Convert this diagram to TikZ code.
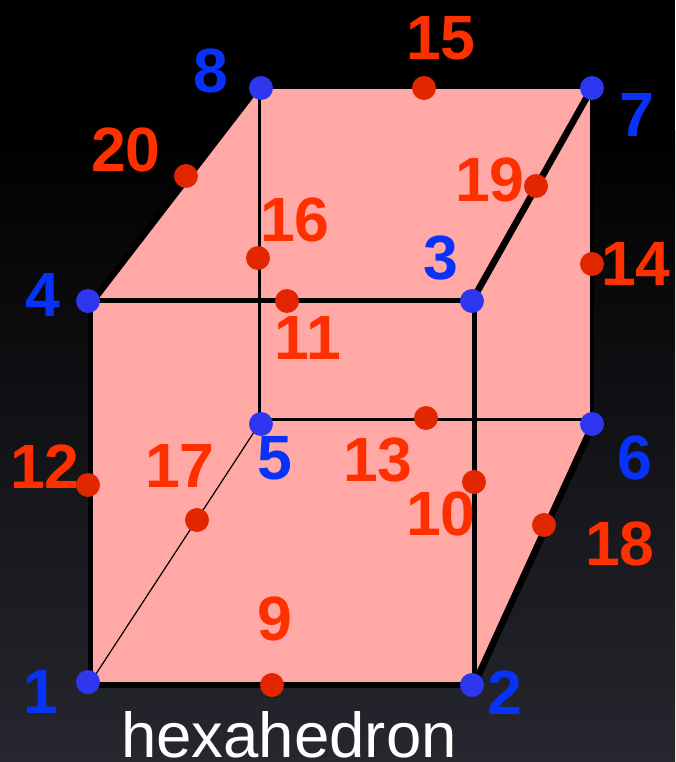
\documentclass[tikz,border=0pt]{standalone}
\usepackage{fontspec}
\setmainfont{Liberation Sans}
\definecolor{pk}{RGB}{255,168,166}
\definecolor{bl}{RGB}{45,55,240}
\definecolor{rd}{RGB}{225,38,0}
\definecolor{rt}{RGB}{255,48,0}
\definecolor{bt}{RGB}{8,50,250}
\definecolor{bgb}{RGB}{38,39,47}
\tikzset{x=0.0264cm,y=-0.0264cm,
 bd/.style={circle,fill=bl,inner sep=0pt,minimum size=24*0.75pt},
 rdd/.style={circle,fill=rd,inner sep=0pt,minimum size=24*0.75pt},
 bn/.style={text=bt,font=\bfseries\fontsize{47}{47}\selectfont,inner sep=0pt},
 rn/.style={text=rt,font=\bfseries\fontsize{47}{47}\selectfont,inner sep=0pt},
 edge/.style={draw=black,line join=round}}
\begin{document}
\begin{tikzpicture}
\useasboundingbox (0,0) rectangle (675,762);
\fill[black] (0,0) rectangle (675,762);
\shade[top color=black,bottom color=bgb] (0,130) rectangle (675,762);
% outline of the pink body
\coordinate (p1) at (90,685);\coordinate (p2) at (474,685);\coordinate (p6) at (591,425);
\coordinate (p7) at (591,88);\coordinate (p8) at (257,88);\coordinate (p4) at (90,303);
\fill[pk] (p1)--(p2)--(p6)--(p7)--(p8)--(p4)--cycle;
% edge end points
\coordinate (e1a) at (90.5,688);\coordinate (e4a) at (90.5,301);
\coordinate (e1b) at (88,685);\coordinate (e2b) at (476,685);
\coordinate (e2c) at (474,685);\coordinate (e6c) at (594,422);
\coordinate (e6d) at (592,424);\coordinate (e7d) at (592,88);
\coordinate (e4e) at (93,301);\coordinate (e8e) at (257,88);
\coordinate (e3f) at (472,301);\coordinate (e7f) at (592,88);
\coordinate (e4g) at (88,300.7);\coordinate (e3g) at (472,300.7);
\coordinate (e3h) at (474.3,301);\coordinate (e2h) at (474.3,685);
\coordinate (e8i) at (259.3,88);\coordinate (e5i) at (259.3,424);
\coordinate (e5j) at (260,419.5);\coordinate (e6j) at (592,419.5);
\coordinate (e1k) at (92,680);\coordinate (e5k) at (258,426);
\coordinate (e8l) at (260,88);\coordinate (e7l) at (592,88);
\draw[edge,line width=4.6pt] (e1b)--(e2b);
\draw[edge,line width=3.9pt] (e1a)--(e4a);
\draw[edge,line width=5pt] (e2c)--(e6c);
\draw[edge,line width=2.8pt] (e6d)--(e7d);
\draw[edge,line width=4.5pt] (e4e)--(e8e);
\draw[edge,line width=5pt] (e3f)--(e7f);
\draw[edge,line width=3.5pt] (e4g)--(e3g);
\draw[edge,line width=3.8pt] (e3h)--(e2h);
\draw[edge,line width=2.4pt] (e8i)--(e5i);
\draw[edge,line width=2.1pt] (e5j)--(e6j);
\draw[edge,line width=.9pt] (e1k)--(e5k);
\draw[edge,line width=.6pt] (e8l)--(e7l);
% labels under the dots
\foreach \n/\x/\y in {1/41/692,2/505/693,3/441/258,4/43/295,5/275/458,6/635/458,7/637/115,8/211/71}
  \node[bn] (tb\n) at (\x,\y) {\n};
\foreach \n/\x/\y in {9/275/619,11/308/338,12/45/467,13/378/460,14/636/264,15/441/38,16/295/220,17/180/466,18/620/544,19/490/180,20/126/150}
  \node[rn] (tr\n) at (\x,\y) {\n};
\foreach \n/\x/\y in {1/88/682,2/472/685,3/472/301,4/88/301,5/261/424,6/592/424,7/592/88,8/261/88}
  \node[bd] (b\n) at (\x,\y) {};
\foreach \n/\x/\y in {9/272/685,10/474/482,11/287/301,12/88/485,13/426/418,14/592/264,15/424/88,16/258/258,17/197/520,18/544/525,19/536/186,20/186/176}
  \node[rdd] (r\n) at (\x,\y) {};
\node[rn] (tr10) at (441,514) {10};
\node[text=white,font=\fontsize{47.7}{47.7}\selectfont,inner sep=0pt,anchor=base] (title) at (289,757) {hexahedron};
\end{tikzpicture}
\end{document}
